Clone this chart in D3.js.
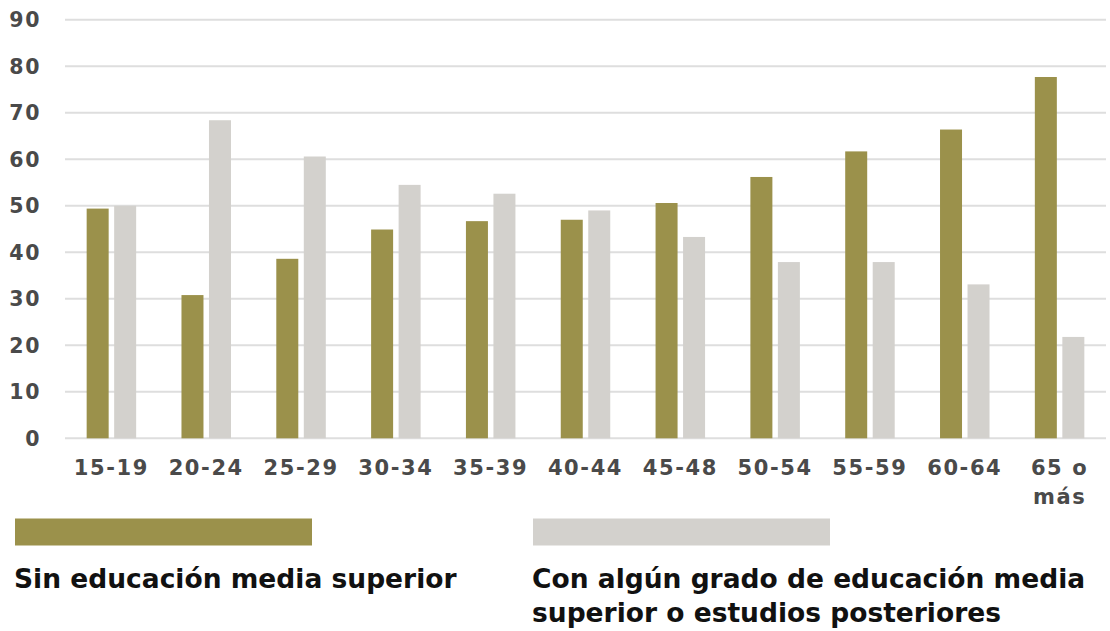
<!DOCTYPE html>
<html>
<head>
<meta charset="utf-8">
<script src="https://cdn.jsdelivr.net/npm/d3@7"></script>
<style>
  html, body { margin: 0; padding: 0; background: #ffffff; }
  svg { display: block; }
</style>
</head>
<body>
<svg id="chart" width="1110" height="631"></svg>
<script>
// ---- Data ----
const categories = ["15-19", "20-24", "25-29", "30-34", "35-39", "40-44", "45-48", "50-54", "55-59", "60-64", "65 o más"];
const sinEducacion = [49.4, 30.8, 38.6, 44.9, 46.7, 47.0, 50.6, 56.2, 61.7, 66.4, 77.7];
const conEducacion = [50.0, 68.4, 60.6, 54.5, 52.6, 49.0, 43.3, 37.9, 37.9, 33.1, 21.8];
const seriesNames = ["Sin educación media superior", "Con algún grado de educación media superior o estudios posteriores"];
const legendLines = [["Sin educación media superior"], ["Con algún grado de educación media", "superior o estudios posteriores"]];
const yTicks = [0, 10, 20, 30, 40, 50, 60, 70, 80, 90];
const colors = ["#9b914b", "#d3d1cd"];

const svg = d3.select("#chart");
const font = "'DejaVu Sans', sans-serif";

const y = d3.scaleLinear().domain([0, 90]).range([438.3, 19.8]);
const x = d3.scaleBand().domain(categories).range([64, 1107]).padding(0);
const xs = d3.scaleBand().domain(seriesNames).range([-24.75, 24.75]).paddingInner(0.2);

// Gridlines
svg.append("g").selectAll("line").data(yTicks).join("line")
  .attr("x1", 65).attr("x2", 1106)
  .attr("y1", d => y(d)).attr("y2", d => y(d))
  .attr("stroke", "#dedede").attr("stroke-width", 2);

// Y tick labels
svg.append("g").selectAll("text").data(yTicks).join("text")
  .attr("x", 41).attr("y", d => y(d)).attr("dy", "0.36em")
  .attr("text-anchor", "end")
  .attr("font-family", font).attr("font-weight", "bold").attr("font-size", 20.5)
  .attr("letter-spacing", 1.6)
  .attr("fill", "#4a4a4a")
  .text(d => d);

// Bars
const rows = categories.map((c, i) => ({ cat: c, vals: [sinEducacion[i], conEducacion[i]] }));
const groups = svg.append("g").selectAll("g").data(rows).join("g")
  .attr("transform", d => `translate(${x(d.cat) + x.bandwidth() / 2},0)`);
groups.selectAll("rect").data(d => d.vals.map((v, j) => ({ v, s: seriesNames[j], j }))).join("rect")
  .attr("x", d => xs(d.s))
  .attr("width", xs.bandwidth())
  .attr("y", d => y(d.v))
  .attr("height", d => y(0) - y(d.v))
  .attr("fill", d => colors[d.j]);

// X labels
const xl = svg.append("g").selectAll("text").data(categories).join("text")
  .attr("x", d => x(d) + x.bandwidth() / 2)
  .attr("y", 475)
  .attr("text-anchor", "middle")
  .attr("font-family", font).attr("font-weight", "bold").attr("font-size", 21)
  .attr("letter-spacing", 1.6)
  .attr("fill", "#4a4a4a");
xl.each(function(d) {
  const t = d3.select(this);
  if (d === "65 o más") {
    t.append("tspan").attr("x", x(d) + x.bandwidth() / 2).attr("dy", 0).text("65 o");
    t.append("tspan").attr("x", x(d) + x.bandwidth() / 2).attr("dy", 29).text("más");
  } else {
    t.text(d);
  }
});

// Legend
const legendX = [15, 533];
const lg = svg.append("g").selectAll("g").data(seriesNames).join("g");
lg.append("rect")
  .attr("x", (d, i) => legendX[i]).attr("y", 518.5)
  .attr("width", 297).attr("height", 27)
  .attr("fill", (d, i) => colors[i]);
lg.each(function(d, i) {
  const t = d3.select(this).append("text")
    .attr("x", legendX[i] - 1).attr("y", 588)
    .attr("font-family", font).attr("font-weight", "bold").attr("font-size", 26.5)
    .attr("fill", "#111111");
  legendLines[i].forEach((line, k) => {
    t.append("tspan").attr("x", legendX[i] - 1).attr("dy", k === 0 ? 0 : 34).text(line);
  });
});
</script>
</body>
</html>
